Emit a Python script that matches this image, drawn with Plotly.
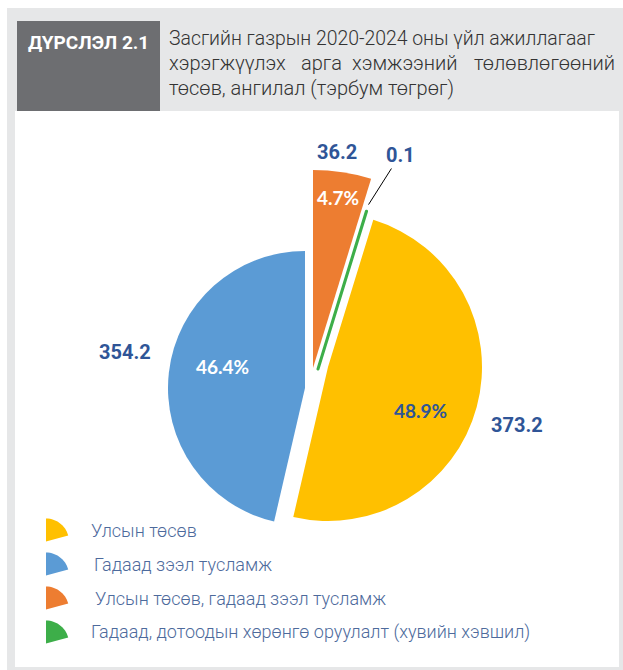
import math
import plotly.graph_objects as go

# ---------------- data ----------------
labels = [
    "Улсын төсөв",
    "Гадаад зээл тусламж",
    "Улсын төсөв, гадаад зээл тусламж",
    "Гадаад, дотоодын хөрөнгө оруулалт (хувийн хэвшил)",
]
values = [373.2, 354.2, 36.2, 0.1]
colors = ["#FFC000", "#5B9BD5", "#ED7D31", "#3DAE49"]
pct_colors = ["#2F5597", "#FFFFFF", "#FFFFFF", "#FFFFFF"]
tag_text = "ДҮРСЛЭЛ 2.1"
title_line1 = "Засгийн газрын 2020-2024 оны үйл ажиллагааг"
title_line2 = ["хэрэгжүүлэх", "арга", "хэмжээний", "төлөвлөгөөний"]
title_line3 = "төсөв, ангилал (тэрбум төгрөг)"

# ---------------- layout helpers ----------------
W, H = 623, 670
def px(x):
    return x / W
def py(y):
    return 1 - y / H
def dom(cx, cy, r):
    return dict(x=[px(cx - r), px(cx + r)], y=[py(cy + r), py(cy - r)])

# exploded wedge placement: (centre x, centre y, radius) in pixels
geom = [(328, 367, 154), (305, 388, 137), (313, 368, 198), (318, 369, 165)]
# label placement (pixels): inside percentage, outside value
pct_pos = [(420, 411), (222, 366), (338, 197), None]
val_pos = [(517, 425), (125, 352), (337, 152), (400, 155)]

total = sum(values)
rotation = 360 * (values[2] + values[3]) / total
TRANSP = "rgba(0,0,0,0)"
VAL_COLOR = "#2F5597"

fig = go.Figure()
n = len(values)
for k in range(n):
    cx, cy, r = geom[k]
    cols = [colors[j] if j == k else TRANSP for j in range(n)]
    lw = [3 if (j == k and k == 3) else 0 for j in range(n)]
    lc = [colors[j] if j == k else TRANSP for j in range(n)]
    fig.add_trace(go.Pie(
        values=values, labels=labels, sort=False, direction="clockwise",
        rotation=rotation, domain=dom(cx, cy, r),
        marker=dict(colors=cols, line=dict(width=lw, color=lc)),
        textinfo="none", showlegend=False, hoverinfo="skip",
    ))

annotations = []
for k in range(n):
    if pct_pos[k] is not None:
        x, y = pct_pos[k]
        annotations.append(dict(text=f"{values[k] / total:.1%}", x=px(x), y=py(y),
                                xref="paper", yref="paper", showarrow=False,
                                xanchor="center", yanchor="middle",
                                font=dict(family="Lato", size=19, color=pct_colors[k], weight="bold")))
    x, y = val_pos[k]
    if k != 3:
        annotations.append(dict(text=f"{values[k]:.1f}", x=px(x), y=py(y),
                                xref="paper", yref="paper", showarrow=False,
                                xanchor="center", yanchor="middle",
                                font=dict(family="Roboto", size=20, color=VAL_COLOR, weight="bold")))
    else:
        gcx, gcy, gr = geom[3]
        mid = math.radians(rotation - 360 * values[3] / total / 2)
        tipx = gcx + (gr + 7) * math.sin(mid)
        tipy = gcy - (gr + 7) * math.cos(mid)
        annotations.append(dict(text=f"{values[k]:.1f}", x=px(tipx), y=py(tipy),
                                xref="paper", yref="paper",
                                showarrow=True, arrowhead=0, arrowwidth=1, arrowcolor="#000000",
                                ax=x - tipx, ay=y - tipy,
                                font=dict(family="Roboto", size=20, color=VAL_COLOR, weight="bold")))

shapes = [
    dict(type="rect", xref="paper", yref="paper", x0=px(7), x1=px(623), y0=py(670), y1=py(8),
         fillcolor="#E6E7E8", line=dict(width=0), layer="below"),
    dict(type="rect", xref="paper", yref="paper", x0=px(15), x1=px(619), y0=py(667), y1=py(111),
         fillcolor="#FFFFFF", line=dict(width=0), layer="below"),
    dict(type="rect", xref="paper", yref="paper", x0=px(17), x1=px(160), y0=py(111), y1=py(21),
         fillcolor="#6D6E71", line=dict(width=0), layer="below"),
]

TITLE_FONT = dict(family="Roboto", size=20, color="#333333", weight=300)
annotations += [
    dict(text=tag_text, x=px(88), y=py(43), xref="paper", yref="paper", showarrow=False,
         xanchor="center", yanchor="middle",
         font=dict(family="Roboto", size=19, color="#FFFFFF", weight="bold")),
    dict(text=title_line1, x=px(167), y=py(38), xref="paper", yref="paper", showarrow=False,
         xanchor="left", yanchor="middle",
         font=dict(family="Roboto", size=19.4, color="#333333", weight=300)),
    dict(text=title_line3, x=px(167), y=py(88), xref="paper", yref="paper", showarrow=False,
         xanchor="left", yanchor="middle", font=TITLE_FONT),
]
line2_pos = [(167, "left"), (321, "center"), (405, "center"), (617, "right")]
for word, (x, anc) in zip(title_line2, line2_pos):
    annotations.append(dict(text=word, x=px(x), y=py(63), xref="paper", yref="paper",
                            showarrow=False, xanchor=anc, yanchor="middle", font=TITLE_FONT))

# custom legend with wedge keys
leg_text_x = [89, 92, 93, 89]
for i in range(n):
    yc = 530 + 34 * i
    ox, oy, rr = 46, yc + 11.5, 23
    pts = [(ox, oy)]
    for s in range(0, 16):
        a = math.radians(75 * s / 15)
        pts.append((ox + rr * math.sin(a), oy - rr * math.cos(a)))
    path = "M " + " L ".join(f"{px(a):.5f},{py(b):.5f}" for a, b in pts) + " Z"
    shapes.append(dict(type="path", xref="paper", yref="paper", path=path,
                       fillcolor=colors[i], line=dict(width=0)))
    annotations.append(dict(text=labels[i], x=px(leg_text_x[i]), y=py(yc), xref="paper", yref="paper",
                            showarrow=False, xanchor="left", yanchor="middle",
                            font=dict(family="Roboto", size=18, color="#4D6A9C", weight=300)))

fig.update_layout(
    width=W, height=H, margin=dict(l=0, r=0, t=0, b=0),
    paper_bgcolor="#FFFFFF", plot_bgcolor="#FFFFFF",
    shapes=shapes, annotations=annotations, showlegend=False,
)
fig.write_html("out.html", config={"displayModeBar": False},
               post_script="document.body.style.margin='0px';")
